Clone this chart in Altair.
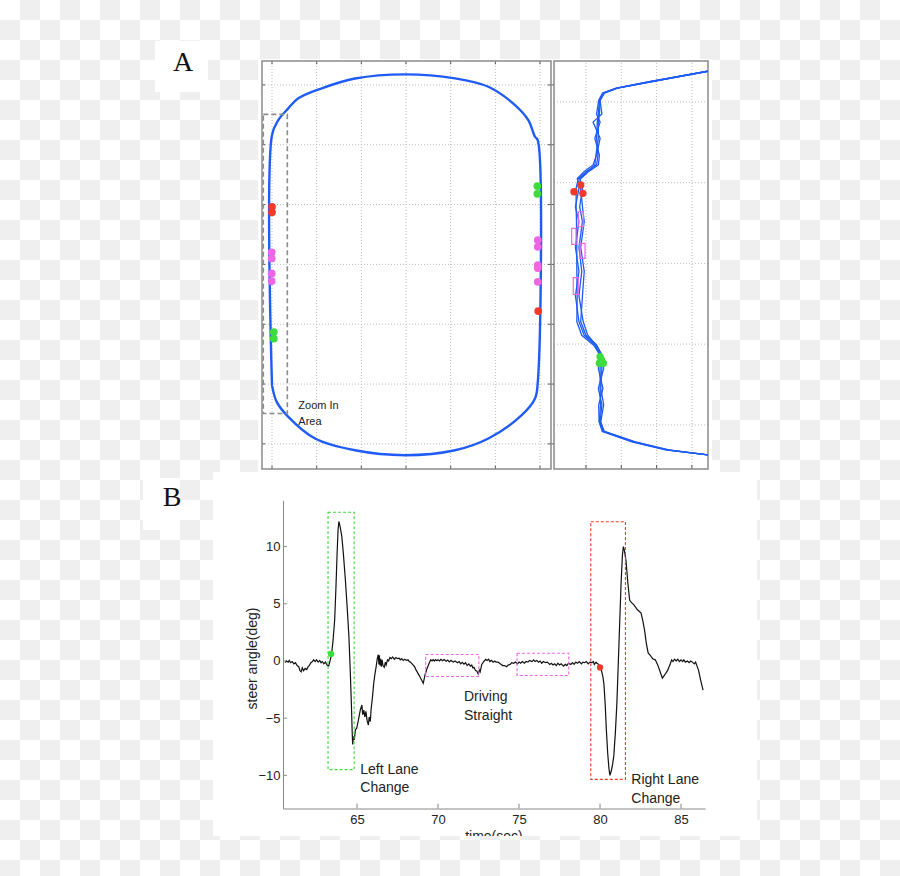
import altair as alt
import pandas as pd

# ================= DATA =================
# --- Panel A (left): test track, one lap (metres) ---
track_x = [-30.0, -30.0, -28.59, -26.35, -24.11, -18.87, -11.42, -0.22, 10.97, 18.43, 24.40, 27.38,
           28.88, 29.48, 29.48, 28.88, 25.90, 18.43, 10.97, -0.22, -11.42, -20.37, -26.35, -28.95, -30.0]
track_y = [-20.18, 21.62, 24.13, 26.09, 27.76, 29.43, 31.07, 31.77, 31.10, 29.70, 26.64, 24.13,
           21.34, 20.79, -19.85, -22.41, -25.20, -29.10, -31.07, -31.89, -31.07, -29.10, -25.48, -22.98, -20.18]
# event markers on the track
amark_x = [-30.0, -30.0, -30.07, -30.07, -30.07, -30.07, -29.6, -29.6,
           29.4, 29.4, 29.5, 29.5, 29.5, 29.5, 29.5, 29.6]
amark_y = [9.63, 8.70, 2.01, 1.00, -1.51, -2.79, -11.3, -12.4,
           13.1, 11.8, 4.06, 2.94, -0.12, -0.62, -2.91, -7.81]
amark_c = ["red", "red", "pink", "pink", "pink", "pink", "green", "green",
           "green", "green", "pink", "pink", "pink", "pink", "pink", "red"]
zoom_box = [-31.95, -26.57, -24.92, 25.08]          # x1, x2, y1, y2
zoom_text = ["Zoom In", "Area"]
zoom_text_x = [-24.1, -24.1]
zoom_text_y = [-23.6, -26.3]

# --- Panel A (right): zoomed lane, four laps ---
lane_y = [23.8, 22.5, 21.7, 21.1, 20.2, 18.5, 17.5, 15.5, 13.4, 12.2, 11.4, 10.5, 9.3, 7.0, 5.2,
          2.0, -1.0, -4.0, -7.2, -8.9, -10.1, -11.3, -13.0, -15.5, -17.5, -19.6, -20.8, -22.1, -23.1, -23.7]
lap1_x = [3.45, 1.81, 0.87, 0.49, 0.38, 0.35, 0.32, 0.30, 0.34, 0.30, 0.02, -0.22, -0.28, -0.28, -0.27,
          -0.26, -0.26, -0.25, -0.26, -0.12, 0.21, 0.40, 0.40, 0.40, 0.41, 0.38, 0.49, 1.34, 2.29, 3.45]
lap2_x = [3.45, 1.85, 0.90, 0.50, 0.40, 0.45, 0.20, 0.40, 0.30, 0.20, -0.05, -0.25, -0.15, -0.10, -0.05,
          -0.15, -0.05, -0.10, -0.15, 0.00, 0.30, 0.45, 0.50, 0.35, 0.45, 0.40, 0.52, 1.40, 2.35, 3.45]
lap3_x = [3.45, 1.78, 0.85, 0.47, 0.36, 0.30, 0.40, 0.25, 0.38, 0.35, 0.08, -0.15, -0.20, -0.30, -0.20,
          -0.30, -0.20, -0.30, -0.20, -0.05, 0.25, 0.38, 0.35, 0.48, 0.36, 0.37, 0.46, 1.30, 2.25, 3.45]
lap4_x = [3.45, 1.83, 0.88, 0.52, 0.40, 0.38, 0.35, 0.35, 0.28, 0.25, 0.05, -0.18, -0.10, -0.18, -0.10,
          -0.20, -0.12, -0.20, -0.08, 0.05, 0.28, 0.42, 0.45, 0.42, 0.50, 0.42, 0.50, 1.37, 2.31, 3.45]
zmark_x = [-0.34, -0.15, -0.09, 0.40, 0.49, 0.38, 0.44]
zmark_y = [8.88, 9.71, 8.68, -11.55, -12.37, -12.37, -11.96]
zmark_c = ["red", "red", "red", "green", "green", "green", "green"]
pbox_x1 = [-0.218, -0.405, -0.170, -0.360]
pbox_x2 = [-0.076, -0.283, -0.028, -0.218]
pbox_y1 = [4.54, 2.37, 0.63, -3.83]
pbox_y2 = [6.40, 4.35, 2.49, -1.77]

# --- Panel B: steering angle (deg) vs time (s), read in segments ---
seg_before = [(60.56, -0.15), (60.65, 0.0), (60.75, -0.1), (60.82, 0.05), (60.9, -0.15), (61.0, -0.05),
              (61.1, -0.25), (61.2, -0.15), (61.3, -0.4), (61.4, -0.5), (61.48, -0.85), (61.55, -0.95),
              (61.62, -0.6), (61.7, -0.85), (61.8, -0.65), (61.9, -0.75), (61.98, -0.5), (62.05, -0.4),
              (62.15, -0.15), (62.25, -0.05), (62.32, 0.1), (62.42, -0.05), (62.5, 0.1), (62.6, -0.1),
              (62.7, 0.05), (62.78, -0.15), (62.86, -0.05), (62.95, -0.25), (63.05, -0.1), (63.15, -0.35),
              (63.25, -0.45), (63.35, 0.1)]
seg_left_change = [(63.43, 0.6), (63.52, 1.8), (63.62, 3.6), (63.7, 6.5), (63.77, 9.4), (63.83, 11.5),
                   (63.88, 12.2), (63.95, 11.8), (64.06, 10.9), (64.15, 9.5), (64.28, 7.1), (64.4, 4.5),
                   (64.5, 2.1), (64.58, -0.8), (64.65, -3.7), (64.7, -6.2), (64.73, -7.3), (64.78, -6.6),
                   (64.83, -6.9), (64.9, -6.0), (64.98, -5.9), (65.04, -5.45), (65.12, -4.9), (65.2, -4.3),
                   (65.3, -3.85), (65.35, -4.7), (65.42, -4.3), (65.48, -4.9), (65.55, -4.4), (65.62, -5.2),
                   (65.7, -5.6), (65.75, -4.9), (65.82, -5.3), (65.87, -4.2), (65.95, -3.2), (66.03, -1.95),
                   (66.1, -1.2), (66.18, -0.5), (66.25, 0.2), (66.31, 0.55), (66.35, -0.3), (66.38, 0.5),
                   (66.42, -0.4), (66.46, 0.2), (66.5, -0.5), (66.55, 0.1), (66.6, -0.4), (66.68, -0.55),
                   (66.75, -0.1), (66.8, -0.35), (66.88, 0.1), (66.95, 0.0)]
seg_middle = [(67.03, 0.3), (67.12, 0.2), (67.2, 0.35), (67.3, 0.15), (67.4, 0.3), (67.5, 0.2), (67.6, 0.25),
              (67.67, 0.1), (67.75, 0.2), (67.85, 0.05), (67.95, 0.15), (68.05, 0.05), (68.15, 0.1),
              (68.22, -0.05), (68.3, -0.1), (68.4, -0.25), (68.55, -0.5), (68.65, -0.8), (68.85, -1.3),
              (69.0, -1.7), (69.09, -1.95), (69.2, -1.2), (69.3, -0.75), (69.45, -0.2), (69.55, 0.1),
              (69.63, 0.0), (69.7, 0.12), (69.78, 0.0), (69.85, 0.12), (69.93, 0.02), (70.0, 0.1),
              (70.1, 0.0), (70.18, 0.14), (70.28, 0.02), (70.38, 0.12), (70.5, -0.02), (70.6, 0.08),
              (70.7, -0.08), (70.8, 0.05), (70.94, -0.1), (71.05, 0.0), (71.2, -0.15), (71.3, -0.05),
              (71.4, -0.25), (71.5, -0.12), (71.6, -0.28), (71.7, -0.15), (71.8, -0.4), (71.9, -0.25),
              (72.0, -0.45), (72.08, -0.35), (72.15, -0.6), (72.22, -0.55), (72.3, -0.8), (72.4, -0.9),
              (72.48, -1.15), (72.55, -0.8), (72.6, -0.95), (72.7, -0.3), (72.85, 0.0), (72.95, 0.15),
              (73.03, 0.05), (73.12, 0.15), (73.2, -0.05), (73.3, 0.05), (73.4, -0.1), (73.5, 0.0),
              (73.58, -0.1), (73.7, -0.1), (73.8, -0.2), (73.9, -0.3), (74.0, -0.4), (74.1, -0.4),
              (74.23, -0.5), (74.33, -0.35), (74.45, -0.3), (74.55, -0.15), (74.67, -0.2), (74.78, -0.1),
              (74.9, -0.25), (75.0, -0.1), (75.1, -0.2), (75.2, -0.05), (75.33, -0.2), (75.43, -0.05),
              (75.55, -0.1), (75.65, 0.05), (75.8, -0.05), (75.9, 0.1), (75.99, -0.05), (76.1, 0.05),
              (76.2, -0.1), (76.3, 0.0), (76.4, -0.2), (76.5, -0.05), (76.64, -0.15), (76.75, -0.1),
              (76.9, -0.3), (77.0, -0.2), (77.1, -0.35), (77.2, -0.25), (77.3, -0.4), (77.4, -0.2),
              (77.5, -0.35), (77.6, -0.25), (77.75, -0.45), (77.85, -0.3), (77.95, -0.4), (78.05, -0.2),
              (78.2, -0.3), (78.3, -0.15), (78.4, -0.3), (78.5, -0.1), (78.61, -0.2), (78.72, -0.05),
              (78.85, -0.25), (78.95, -0.1), (79.05, -0.15), (79.15, -0.05), (79.27, -0.25), (79.38, -0.1),
              (79.5, -0.15), (79.58, -0.05), (79.65, -0.3), (79.75, -0.1), (79.81, -0.2), (79.92, -0.3)]
seg_right_change = [(80.0, -0.55), (80.1, -0.9), (80.18, -1.4), (80.24, -2.0), (80.32, -3.8), (80.39, -6.0),
                    (80.47, -8.0), (80.55, -9.4), (80.61, -10.0), (80.7, -9.6), (80.78, -9.0), (80.85, -8.3),
                    (80.95, -6.2), (81.04, -3.7), (81.12, -0.5), (81.22, 3.6), (81.3, 6.8), (81.38, 9.2),
                    (81.44, 10.0), (81.5, 9.7), (81.6, 8.8), (81.72, 6.8), (81.83, 5.3), (81.95, 5.1),
                    (82.09, 4.9), (82.3, 4.5), (82.53, 4.2), (82.63, 3.6), (82.75, 2.7), (82.85, 1.6),
                    (82.97, 0.7), (83.1, 0.5), (83.25, 0.2)]
seg_after = [(83.41, 0.1), (83.55, -0.3), (83.7, -0.9), (83.85, -1.5), (84.0, -1.2), (84.18, -0.8),
             (84.35, -0.2), (84.42, 0.1), (84.51, -0.05), (84.6, 0.15), (84.7, 0.0), (84.8, 0.15),
             (84.9, -0.05), (85.0, 0.1), (85.1, -0.05), (85.17, 0.1), (85.27, -0.1), (85.4, 0.0),
             (85.5, -0.15), (85.6, 0.0), (85.7, -0.1), (85.82, -0.25), (85.9, -0.1), (85.95, -0.3),
             (86.08, -0.8), (86.2, -1.6), (86.36, -2.55)]
event_t = [63.4, 80.0]
event_v = [0.62, -0.57]
event_c = ["green", "red"]
box_t1 = [63.21, 69.24, 74.88, 79.43]
box_t2 = [64.82, 72.52, 78.07, 81.57]
box_v1 = [-9.5, -1.36, -1.27, -10.35]
box_v2 = [13.0, 0.57, 0.68, 12.18]
box_c = ["green", "pink", "pink", "red"]
note_text = ["Left Lane", "Change", "Driving", "Straight", "Right Lane", "Change"]
note_t = [65.2, 65.2, 71.6, 71.6, 81.93, 81.93]
note_v = [-9.49, -11.15, -3.15, -4.85, -10.45, -12.1]
b_xticks = [65, 70, 75, 80, 85]
b_yticks = [-10, -5, 0, 5, 10]

# ================= STYLE / LAYOUT =================
FONT = "Liberation Sans"
BLUE = "#1f5cf5"
CMAP = alt.Scale(domain=["red", "pink", "green"], range=["#f23a2a", "#ee66e6", "#3ddc3d"])
GRID = dict(color="#bdbdbd", strokeDash=[1, 2], strokeWidth=1)


def S(d, r):
    return alt.Scale(domain=d, range=r, zero=False, nice=False)


PX, PY = S([0, 900], [0, 900]), S([0, 876], [0, 876])
ALX, ALY = S([-32.24, 32.46], [262, 551]), S([-34.2, 34.0], [469, 61])
ARX, ARY = S([-0.9065, 3.456], [554, 708]), S([-25.46, 25.07], [469, 61])
BX, BY = S([60.43, 86.48], [283, 705]), S([-12.9, 14.05], [808.5, 500.3])


def rects(df, sx, sy, **kw):
    return alt.Chart(df).mark_rect(**kw).encode(
        x=alt.X("x1:Q", scale=sx, axis=None), x2="x2:Q",
        y=alt.Y("y1:Q", scale=sy, axis=None), y2="y2:Q")


def box_df(x1, x2, y1, y2):
    return pd.DataFrame({"x1": x1, "x2": x2, "y1": y1, "y2": y2})


def vrules(xs, y1, y2, sx, sy, **kw):
    df = pd.DataFrame({"x": xs, "y1": [y1] * len(xs), "y2": [y2] * len(xs)})
    return alt.Chart(df).mark_rule(**kw).encode(
        x=alt.X("x:Q", scale=sx, axis=None),
        y=alt.Y("y1:Q", scale=sy, axis=None), y2="y2:Q")


def hrules(ys, x1, x2, sx, sy, **kw):
    df = pd.DataFrame({"y": ys, "x1": [x1] * len(ys), "x2": [x2] * len(ys)})
    return alt.Chart(df).mark_rule(**kw).encode(
        x=alt.X("x1:Q", scale=sx, axis=None), x2="x2:Q",
        y=alt.Y("y:Q", scale=sy, axis=None))


def texts(txt, xs, ys, sx, sy, **kw):
    df = pd.DataFrame({"x": xs, "y": ys, "t": txt})
    return alt.Chart(df).mark_text(**kw).encode(
        x=alt.X("x:Q", scale=sx, axis=None),
        y=alt.Y("y:Q", scale=sy, axis=None), text="t:N")


def points(xs, ys, cs, sx, sy, size):
    df = pd.DataFrame({"x": xs, "y": ys, "c": cs})
    return alt.Chart(df).mark_circle(size=size, opacity=1).encode(
        x=alt.X("x:Q", scale=sx, axis=None),
        y=alt.Y("y:Q", scale=sy, axis=None),
        color=alt.Color("c:N", scale=CMAP, legend=None))


layers = []

# ---- transparent-look checkerboard background ----
cells = [(i * 20, i * 20 + 20, j * 20, j * 20 + 20)
         for i in range(45) for j in range(44) if (i + j) % 2 == 1]
layers.append(rects(box_df(*zip(*cells)), PX, PY, color="#efefef"))
# white blocks behind labels and panels
layers.append(rects(box_df([155, 143, 258, 213], [208, 180, 712, 757],
                           [41, 478, 59, 472], [92, 530, 473, 836]), PX, PY, color="white"))
layers.append(texts(["A", "B"], [183, 172], [63, 498], PX, PY, font="Liberation Serif",
                    fontSize=28, color="#111", align="center", baseline="middle"))

# ---- Panel A left ----
AL = (-32.24, 32.46, -34.2, 34.0)
gx = [-30, -20, -10, 0, 10, 20, 30]
gy = [-30, -20, -10, 0, 10, 20, 30]
layers.append(vrules(gx, AL[2], AL[3], ALX, ALY, **GRID))
layers.append(hrules(gy, AL[0], AL[1], ALX, ALY, **GRID))
layers.append(hrules(gy, AL[0], AL[0] + 0.7, ALX, ALY, color="#555", strokeWidth=1))
layers.append(hrules(gy, AL[1] - 0.7, AL[1] + 0.8, ALX, ALY, color="#555", strokeWidth=1))
layers.append(vrules(gx, AL[2], AL[2] + 0.55, ALX, ALY, color="#555", strokeWidth=1))
layers.append(vrules(gx, AL[3] - 0.55, AL[3], ALX, ALY, color="#555", strokeWidth=1))
layers.append(rects(box_df([AL[0]], [AL[1]], [AL[2]], [AL[3]]), ALX, ALY,
                    filled=False, stroke="#8a8a8a", strokeWidth=1.5))
tdf = pd.DataFrame({"x": track_x, "y": track_y, "i": range(len(track_x))})
layers.append(alt.Chart(tdf).mark_line(color=BLUE, strokeWidth=2.4, interpolate="catmull-rom").encode(
    x=alt.X("x:Q", scale=ALX, axis=None), y=alt.Y("y:Q", scale=ALY, axis=None), order="i:Q"))
layers.append(points(amark_x, amark_y, amark_c, ALX, ALY, 60))
layers.append(rects(box_df([zoom_box[0]], [zoom_box[1]], [zoom_box[2]], [zoom_box[3]]), ALX, ALY,
                    filled=False, stroke="#8c8c8c", strokeWidth=1.6, strokeDash=[5, 3]))
layers.append(texts(zoom_text, zoom_text_x, zoom_text_y, ALX, ALY, font=FONT, fontSize=11,
                    color="#222", align="left", baseline="middle"))

# ---- Panel A right ----
AR = (-0.9065, 3.456, -25.46, 25.07)
layers.append(vrules([0, 1, 2, 3], AR[2], AR[3], ARX, ARY, **GRID))
layers.append(hrules([-20, -10, 0, 10, 20], AR[0], AR[1], ARX, ARY, **GRID))
layers.append(vrules([0, 1, 2, 3], AR[2], AR[2] + 0.5, ARX, ARY, color="#555", strokeWidth=1))
layers.append(rects(box_df([AR[0]], [AR[1]], [AR[2]], [AR[3]]), ARX, ARY,
                    filled=False, stroke="#8a8a8a", strokeWidth=1.5))
rows = []
for k, lx in enumerate([lap1_x, lap2_x, lap3_x, lap4_x]):
    for i, (xv, yv) in enumerate(zip(lx, lane_y)):
        rows.append({"lap": k, "i": i, "x": xv, "y": yv})
layers.append(alt.Chart(pd.DataFrame(rows)).mark_line(color=BLUE, strokeWidth=1.3).encode(
    x=alt.X("x:Q", scale=ARX, axis=None), y=alt.Y("y:Q", scale=ARY, axis=None),
    detail="lap:N", order="i:Q"))
layers.append(rects(box_df(pbox_x1, pbox_x2, pbox_y1, pbox_y2), ARX, ARY,
                    filled=False, stroke="#ee66e6", strokeWidth=1.2))
layers.append(points(zmark_x, zmark_y, zmark_c, ARX, ARY, 55))

# ---- Panel B ----
layers.append(vrules(b_xticks, -12.9, -12.48, BX, BY, color="#888", strokeWidth=1))
layers.append(hrules(b_yticks, 60.43, 60.68, BX, BY, color="#888", strokeWidth=1))
trace = seg_before + seg_left_change + seg_middle + seg_right_change + seg_after
bdf = pd.DataFrame(trace, columns=["t", "v"])
layers.append(alt.Chart(bdf).mark_line(color="#111", strokeWidth=1.2).encode(
    x=alt.X("t:Q", scale=BX, axis=alt.Axis(
        orient="bottom", offset=-67.5, values=b_xticks, title=None, ticks=False, grid=False,
        domainColor="#888", labelFont=FONT, labelFontSize=13, labelColor="#222",
        labelPadding=5, zindex=1)),
    y=alt.Y("v:Q", scale=BY, axis=alt.Axis(
        orient="left", offset=-283, values=b_yticks, title="steer angle(deg)", ticks=False,
        grid=False, domainColor="#888", labelFont=FONT, labelFontSize=13, labelColor="#222",
        labelPadding=3, titleFont=FONT, titleFontSize=14, titleFontWeight="normal",
        titleColor="#222", titleAngle=270, titleX=-31, titleY=658, titleAlign="center",
        titleBaseline="middle", zindex=1))))
bx = pd.DataFrame({"x1": box_t1, "x2": box_t2, "y1": box_v1, "y2": box_v2, "c": box_c})
layers.append(alt.Chart(bx).mark_rect(filled=False, strokeWidth=1.1, strokeDash=[3, 2]).encode(
    x=alt.X("x1:Q", scale=BX, axis=None), x2="x2:Q",
    y=alt.Y("y1:Q", scale=BY, axis=None), y2="y2:Q",
    stroke=alt.Stroke("c:N", scale=CMAP, legend=None)))
layers.append(points(event_t, event_v, event_c, BX, BY, 40))
layers.append(texts(note_text, note_t, note_v, BX, BY, font=FONT, fontSize=14, color="#222",
                    align="left", baseline="middle"))
layers.append(texts(["time(sec)"], [73.45], [-12.9], BX, BY, font=FONT, fontSize=14, color="#222",
                    align="center", baseline="top", dy=21))
# the figure edge cuts the x title: re-draw the background below the panel
strip = [(213, 757, 836, 876, "w")]
for i in range(45):
    for j in range(41, 44):
        if (i + j) % 2 == 1:
            x1, x2 = max(i * 20, 213), min(i * 20 + 20, 757)
            y1, y2 = max(j * 20, 836), j * 20 + 20
            if x1 < x2 and y1 < y2:
                strip.append((x1, x2, y1, y2, "g"))
sdf = pd.DataFrame(strip, columns=["x1", "x2", "y1", "y2", "k"])
layers.append(alt.Chart(sdf).mark_rect().encode(
    x=alt.X("x1:Q", scale=PX, axis=None), x2="x2:Q",
    y=alt.Y("y1:Q", scale=PY, axis=None), y2="y2:Q",
    color=alt.Color("k:N", scale=alt.Scale(domain=["w", "g"], range=["#ffffff", "#efefef"]),
                    legend=None)))

chart = alt.layer(*layers).resolve_scale(
    x="independent", y="independent", color="independent", stroke="independent"
).resolve_axis(x="independent", y="independent").properties(
    width=900, height=876, padding=0, background="white",
    autosize=alt.AutoSizeParams(type="none")
).configure_view(stroke=None)

chart.save("out.html", embed_options={"renderer": "svg", "actions": False})
